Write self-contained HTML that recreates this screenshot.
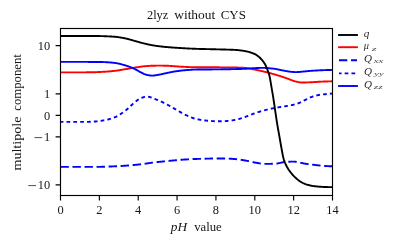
<!DOCTYPE html>
<html><head><meta charset="utf-8"><title>chart</title>
<style>html,body{margin:0;padding:0;background:#fff;}body{width:399px;height:244px;overflow:hidden;font-family:"Liberation Serif",serif;}</style></head>
<body>
<svg width="399" height="244" viewBox="0 0 399 244" style="display:block;will-change:transform">
<rect width="399" height="244" fill="#fff"/>
<defs><clipPath id="c"><rect x="60.50" y="28.50" width="272.00" height="167.00"/></clipPath></defs>
<g clip-path="url(#c)" fill="none" stroke-width="1.90" stroke-linejoin="round">
<path d="M60.40,72.40 L60.90,72.40 L61.40,72.40 L61.90,72.40 L62.40,72.40 L62.90,72.40 L63.40,72.40 L63.90,72.40 L64.40,72.40 L64.90,72.40 L65.40,72.40 L65.90,72.40 L66.40,72.40 L66.90,72.40 L67.40,72.39 L67.90,72.39 L68.40,72.39 L68.90,72.39 L69.40,72.39 L69.90,72.39 L70.40,72.39 L70.90,72.39 L71.40,72.39 L71.90,72.39 L72.40,72.38 L72.90,72.38 L73.40,72.38 L73.90,72.38 L74.40,72.38 L74.90,72.38 L75.40,72.37 L75.90,72.37 L76.40,72.37 L76.90,72.37 L77.40,72.37 L77.90,72.37 L78.40,72.36 L78.90,72.36 L79.40,72.36 L79.90,72.36 L80.40,72.35 L80.90,72.35 L81.40,72.35 L81.90,72.35 L82.40,72.35 L82.90,72.34 L83.40,72.34 L83.90,72.34 L84.40,72.33 L84.90,72.33 L85.40,72.33 L85.90,72.33 L86.40,72.32 L86.90,72.32 L87.40,72.32 L87.90,72.31 L88.40,72.31 L88.90,72.31 L89.40,72.30 L89.90,72.30 L90.40,72.30 L90.90,72.29 L91.40,72.28 L91.90,72.28 L92.40,72.27 L92.90,72.25 L93.40,72.24 L93.90,72.23 L94.40,72.21 L94.90,72.20 L95.40,72.18 L95.90,72.16 L96.40,72.14 L96.90,72.12 L97.40,72.10 L97.90,72.07 L98.40,72.05 L98.90,72.03 L99.40,72.00 L99.90,71.98 L100.40,71.95 L100.90,71.93 L101.40,71.90 L101.90,71.87 L102.40,71.85 L102.90,71.82 L103.40,71.79 L103.90,71.76 L104.40,71.73 L104.90,71.71 L105.40,71.68 L105.90,71.65 L106.40,71.61 L106.90,71.58 L107.40,71.54 L107.90,71.51 L108.40,71.47 L108.90,71.43 L109.40,71.38 L109.90,71.34 L110.40,71.30 L110.90,71.25 L111.40,71.20 L111.90,71.15 L112.40,71.10 L112.90,71.05 L113.40,71.00 L113.90,70.94 L114.40,70.89 L114.90,70.83 L115.40,70.78 L115.90,70.72 L116.40,70.65 L116.90,70.58 L117.40,70.51 L117.90,70.44 L118.40,70.36 L118.90,70.28 L119.40,70.20 L119.90,70.12 L120.40,70.04 L120.90,69.95 L121.40,69.86 L121.90,69.78 L122.40,69.69 L122.90,69.60 L123.40,69.52 L123.90,69.43 L124.40,69.35 L124.90,69.27 L125.40,69.18 L125.90,69.10 L126.40,69.02 L126.90,68.94 L127.40,68.85 L127.90,68.77 L128.40,68.68 L128.90,68.60 L129.40,68.51 L129.90,68.43 L130.40,68.35 L130.90,68.26 L131.40,68.18 L131.90,68.09 L132.40,68.01 L132.90,67.93 L133.40,67.85 L133.90,67.77 L134.40,67.69 L134.90,67.62 L135.40,67.54 L135.90,67.46 L136.40,67.38 L136.90,67.30 L137.40,67.22 L137.90,67.15 L138.40,67.07 L138.90,66.99 L139.40,66.91 L139.90,66.83 L140.40,66.76 L140.90,66.69 L141.40,66.62 L141.90,66.55 L142.40,66.48 L142.90,66.42 L143.40,66.36 L143.90,66.31 L144.40,66.26 L144.90,66.21 L145.40,66.17 L145.90,66.12 L146.40,66.08 L146.90,66.04 L147.40,66.00 L147.90,65.96 L148.40,65.93 L148.90,65.89 L149.40,65.86 L149.90,65.83 L150.40,65.81 L150.90,65.78 L151.40,65.77 L151.90,65.75 L152.40,65.74 L152.90,65.73 L153.40,65.72 L153.90,65.71 L154.40,65.70 L154.90,65.70 L155.40,65.69 L155.90,65.68 L156.40,65.67 L156.90,65.67 L157.40,65.66 L157.90,65.66 L158.40,65.65 L158.90,65.65 L159.40,65.65 L159.90,65.65 L160.40,65.65 L160.90,65.65 L161.40,65.66 L161.90,65.66 L162.40,65.67 L162.90,65.67 L163.40,65.68 L163.90,65.69 L164.40,65.70 L164.90,65.72 L165.40,65.73 L165.90,65.74 L166.40,65.75 L166.90,65.77 L167.40,65.78 L167.90,65.80 L168.40,65.81 L168.90,65.84 L169.40,65.86 L169.90,65.89 L170.40,65.93 L170.90,65.96 L171.40,66.00 L171.90,66.04 L172.40,66.08 L172.90,66.12 L173.40,66.17 L173.90,66.21 L174.40,66.24 L174.90,66.28 L175.40,66.31 L175.90,66.35 L176.40,66.38 L176.90,66.41 L177.40,66.45 L177.90,66.48 L178.40,66.51 L178.90,66.55 L179.40,66.58 L179.90,66.61 L180.40,66.65 L180.90,66.68 L181.40,66.71 L181.90,66.74 L182.40,66.77 L182.90,66.80 L183.40,66.82 L183.90,66.85 L184.40,66.87 L184.90,66.90 L185.40,66.92 L185.90,66.94 L186.40,66.96 L186.90,66.99 L187.40,67.01 L187.90,67.03 L188.40,67.05 L188.90,67.08 L189.40,67.10 L189.90,67.12 L190.40,67.14 L190.90,67.15 L191.40,67.17 L191.90,67.19 L192.40,67.20 L192.90,67.22 L193.40,67.23 L193.90,67.24 L194.40,67.24 L194.90,67.25 L195.40,67.25 L195.90,67.25 L196.40,67.26 L196.90,67.26 L197.40,67.26 L197.90,67.26 L198.40,67.26 L198.90,67.26 L199.40,67.27 L199.90,67.27 L200.40,67.27 L200.90,67.27 L201.40,67.27 L201.90,67.27 L202.40,67.27 L202.90,67.27 L203.40,67.28 L203.90,67.28 L204.40,67.28 L204.90,67.28 L205.40,67.28 L205.90,67.28 L206.40,67.28 L206.90,67.28 L207.40,67.28 L207.90,67.28 L208.40,67.28 L208.90,67.28 L209.40,67.28 L209.90,67.29 L210.40,67.29 L210.90,67.29 L211.40,67.29 L211.90,67.29 L212.40,67.29 L212.90,67.29 L213.40,67.29 L213.90,67.30 L214.40,67.30 L214.90,67.30 L215.40,67.30 L215.90,67.30 L216.40,67.31 L216.90,67.31 L217.40,67.31 L217.90,67.31 L218.40,67.32 L218.90,67.32 L219.40,67.32 L219.90,67.33 L220.40,67.33 L220.90,67.33 L221.40,67.34 L221.90,67.34 L222.40,67.34 L222.90,67.35 L223.40,67.35 L223.90,67.36 L224.40,67.36 L224.90,67.37 L225.40,67.37 L225.90,67.38 L226.40,67.38 L226.90,67.39 L227.40,67.39 L227.90,67.40 L228.40,67.40 L228.90,67.41 L229.40,67.42 L229.90,67.42 L230.40,67.43 L230.90,67.44 L231.40,67.44 L231.90,67.45 L232.40,67.46 L232.90,67.46 L233.40,67.47 L233.90,67.48 L234.40,67.49 L234.90,67.50 L235.40,67.51 L235.90,67.51 L236.40,67.53 L236.90,67.54 L237.40,67.55 L237.90,67.56 L238.40,67.58 L238.90,67.60 L239.40,67.61 L239.90,67.63 L240.40,67.65 L240.90,67.67 L241.40,67.70 L241.90,67.72 L242.40,67.74 L242.90,67.77 L243.40,67.80 L243.90,67.83 L244.40,67.86 L244.90,67.89 L245.40,67.92 L245.90,67.96 L246.40,68.02 L246.90,68.08 L247.40,68.15 L247.90,68.22 L248.40,68.31 L248.90,68.39 L249.40,68.49 L249.90,68.58 L250.40,68.68 L250.90,68.79 L251.40,68.89 L251.90,69.00 L252.40,69.11 L252.90,69.22 L253.40,69.33 L253.90,69.43 L254.40,69.54 L254.90,69.64 L255.40,69.74 L255.90,69.84 L256.40,69.94 L256.90,70.04 L257.40,70.14 L257.90,70.25 L258.40,70.35 L258.90,70.46 L259.40,70.57 L259.90,70.68 L260.40,70.79 L260.90,70.90 L261.40,71.01 L261.90,71.12 L262.40,71.24 L262.90,71.35 L263.40,71.47 L263.90,71.59 L264.40,71.71 L264.90,71.83 L265.40,71.95 L265.90,72.07 L266.40,72.20 L266.90,72.32 L267.40,72.45 L267.90,72.58 L268.40,72.71 L268.90,72.84 L269.40,72.97 L269.90,73.11 L270.40,73.24 L270.90,73.38 L271.40,73.52 L271.90,73.66 L272.40,73.80 L272.90,73.94 L273.40,74.08 L273.90,74.22 L274.40,74.37 L274.90,74.51 L275.40,74.66 L275.90,74.81 L276.40,74.95 L276.90,75.10 L277.40,75.25 L277.90,75.40 L278.40,75.56 L278.90,75.71 L279.40,75.86 L279.90,76.02 L280.40,76.18 L280.90,76.34 L281.40,76.50 L281.90,76.66 L282.40,76.82 L282.90,76.99 L283.40,77.15 L283.90,77.32 L284.40,77.49 L284.90,77.66 L285.40,77.83 L285.90,78.01 L286.40,78.20 L286.90,78.39 L287.40,78.58 L287.90,78.77 L288.40,78.97 L288.90,79.16 L289.40,79.35 L289.90,79.53 L290.40,79.71 L290.90,79.89 L291.40,80.08 L291.90,80.27 L292.40,80.45 L292.90,80.64 L293.40,80.82 L293.90,80.99 L294.40,81.15 L294.90,81.30 L295.40,81.44 L295.90,81.56 L296.40,81.66 L296.90,81.77 L297.40,81.87 L297.90,81.97 L298.40,82.07 L298.90,82.16 L299.40,82.25 L299.90,82.32 L300.40,82.39 L300.90,82.44 L301.40,82.48 L301.90,82.50 L302.40,82.50 L302.90,82.50 L303.40,82.49 L303.90,82.49 L304.40,82.48 L304.90,82.47 L305.40,82.46 L305.90,82.44 L306.40,82.43 L306.90,82.41 L307.40,82.40 L307.90,82.38 L308.40,82.36 L308.90,82.35 L309.40,82.33 L309.90,82.31 L310.40,82.29 L310.90,82.27 L311.40,82.25 L311.90,82.22 L312.40,82.20 L312.90,82.17 L313.40,82.13 L313.90,82.10 L314.40,82.07 L314.90,82.03 L315.40,82.00 L315.90,81.96 L316.40,81.93 L316.90,81.89 L317.40,81.86 L317.90,81.82 L318.40,81.79 L318.90,81.76 L319.40,81.74 L319.90,81.71 L320.40,81.69 L320.90,81.67 L321.40,81.65 L321.90,81.63 L322.40,81.61 L322.90,81.59 L323.40,81.57 L323.90,81.55 L324.40,81.53 L324.90,81.51 L325.40,81.49 L325.90,81.48 L326.40,81.46 L326.90,81.44 L327.40,81.43 L327.90,81.41 L328.40,81.40 L328.90,81.38 L329.40,81.37 L329.90,81.36 L330.40,81.34 L330.90,81.33 L331.40,81.32 L331.90,81.31 L332.50,81.30" stroke="#f00"/>
<path d="M60.40,166.90 L60.90,166.90 L61.40,166.90 L61.90,166.90 L62.40,166.90 L62.90,166.90 L63.40,166.90 L63.90,166.90 L64.40,166.90 L64.90,166.90 L65.40,166.90 L65.90,166.90 L66.40,166.90 L66.90,166.90 L67.40,166.90 L67.90,166.90 L68.40,166.90 L68.90,166.90 L69.40,166.90 L69.90,166.90 L70.40,166.90 L70.90,166.90 L71.40,166.90 L71.90,166.90 L72.40,166.90 L72.90,166.90 L73.40,166.90 L73.90,166.90 L74.40,166.90 L74.90,166.90 L75.40,166.90 L75.90,166.90 L76.40,166.90 L76.90,166.90 L77.40,166.90 L77.90,166.90 L78.40,166.90 L78.90,166.90 L79.40,166.90 L79.90,166.90 L80.40,166.90 L80.90,166.90 L81.40,166.90 L81.90,166.90 L82.40,166.90 L82.90,166.90 L83.40,166.90 L83.90,166.90 L84.40,166.90 L84.90,166.90 L85.40,166.90 L85.90,166.90 L86.40,166.90 L86.90,166.90 L87.40,166.90 L87.90,166.90 L88.40,166.90 L88.90,166.90 L89.40,166.90 L89.90,166.90 L90.40,166.90 L90.90,166.90 L91.40,166.90 L91.90,166.90 L92.40,166.90 L92.90,166.90 L93.40,166.90 L93.90,166.90 L94.40,166.90 L94.90,166.90 L95.40,166.90 L95.90,166.90 L96.40,166.90 L96.90,166.89 L97.40,166.89 L97.90,166.88 L98.40,166.88 L98.90,166.87 L99.40,166.86 L99.90,166.85 L100.40,166.84 L100.90,166.83 L101.40,166.82 L101.90,166.80 L102.40,166.79 L102.90,166.78 L103.40,166.76 L103.90,166.75 L104.40,166.73 L104.90,166.71 L105.40,166.70 L105.90,166.68 L106.40,166.66 L106.90,166.64 L107.40,166.62 L107.90,166.60 L108.40,166.58 L108.90,166.56 L109.40,166.54 L109.90,166.52 L110.40,166.50 L110.90,166.48 L111.40,166.46 L111.90,166.44 L112.40,166.42 L112.90,166.40 L113.40,166.38 L113.90,166.35 L114.40,166.33 L114.90,166.31 L115.40,166.29 L115.90,166.27 L116.40,166.25 L116.90,166.22 L117.40,166.20 L117.90,166.17 L118.40,166.14 L118.90,166.12 L119.40,166.09 L119.90,166.06 L120.40,166.03 L120.90,165.99 L121.40,165.96 L121.90,165.93 L122.40,165.90 L122.90,165.86 L123.40,165.83 L123.90,165.80 L124.40,165.76 L124.90,165.73 L125.40,165.69 L125.90,165.66 L126.40,165.62 L126.90,165.59 L127.40,165.55 L127.90,165.51 L128.40,165.47 L128.90,165.43 L129.40,165.40 L129.90,165.36 L130.40,165.31 L130.90,165.27 L131.40,165.23 L131.90,165.19 L132.40,165.14 L132.90,165.10 L133.40,165.05 L133.90,165.01 L134.40,164.96 L134.90,164.91 L135.40,164.86 L135.90,164.81 L136.40,164.76 L136.90,164.70 L137.40,164.65 L137.90,164.59 L138.40,164.53 L138.90,164.47 L139.40,164.41 L139.90,164.35 L140.40,164.29 L140.90,164.23 L141.40,164.16 L141.90,164.10 L142.40,164.04 L142.90,163.97 L143.40,163.91 L143.90,163.84 L144.40,163.78 L144.90,163.71 L145.40,163.65 L145.90,163.58 L146.40,163.51 L146.90,163.44 L147.40,163.37 L147.90,163.30 L148.40,163.23 L148.90,163.15 L149.40,163.08 L149.90,163.01 L150.40,162.93 L150.90,162.86 L151.40,162.79 L151.90,162.72 L152.40,162.65 L152.90,162.58 L153.40,162.51 L153.90,162.45 L154.40,162.38 L154.90,162.32 L155.40,162.27 L155.90,162.21 L156.40,162.15 L156.90,162.10 L157.40,162.05 L157.90,162.00 L158.40,161.95 L158.90,161.90 L159.40,161.85 L159.90,161.80 L160.40,161.75 L160.90,161.70 L161.40,161.66 L161.90,161.61 L162.40,161.56 L162.90,161.51 L163.40,161.47 L163.90,161.42 L164.40,161.37 L164.90,161.32 L165.40,161.27 L165.90,161.22 L166.40,161.17 L166.90,161.12 L167.40,161.07 L167.90,161.02 L168.40,160.96 L168.90,160.91 L169.40,160.86 L169.90,160.81 L170.40,160.76 L170.90,160.71 L171.40,160.66 L171.90,160.61 L172.40,160.56 L172.90,160.51 L173.40,160.47 L173.90,160.42 L174.40,160.37 L174.90,160.33 L175.40,160.28 L175.90,160.24 L176.40,160.19 L176.90,160.15 L177.40,160.11 L177.90,160.06 L178.40,160.02 L178.90,159.98 L179.40,159.93 L179.90,159.89 L180.40,159.85 L180.90,159.81 L181.40,159.77 L181.90,159.73 L182.40,159.69 L182.90,159.66 L183.40,159.62 L183.90,159.58 L184.40,159.55 L184.90,159.52 L185.40,159.49 L185.90,159.46 L186.40,159.43 L186.90,159.40 L187.40,159.37 L187.90,159.34 L188.40,159.31 L188.90,159.29 L189.40,159.26 L189.90,159.24 L190.40,159.21 L190.90,159.19 L191.40,159.16 L191.90,159.14 L192.40,159.12 L192.90,159.09 L193.40,159.07 L193.90,159.05 L194.40,159.03 L194.90,159.01 L195.40,158.99 L195.90,158.97 L196.40,158.96 L196.90,158.94 L197.40,158.92 L197.90,158.91 L198.40,158.89 L198.90,158.87 L199.40,158.86 L199.90,158.84 L200.40,158.83 L200.90,158.81 L201.40,158.80 L201.90,158.79 L202.40,158.77 L202.90,158.76 L203.40,158.75 L203.90,158.73 L204.40,158.72 L204.90,158.71 L205.40,158.70 L205.90,158.68 L206.40,158.67 L206.90,158.66 L207.40,158.64 L207.90,158.63 L208.40,158.61 L208.90,158.60 L209.40,158.59 L209.90,158.58 L210.40,158.56 L210.90,158.55 L211.40,158.54 L211.90,158.53 L212.40,158.52 L212.90,158.52 L213.40,158.51 L213.90,158.50 L214.40,158.50 L214.90,158.50 L215.40,158.50 L215.90,158.50 L216.40,158.50 L216.90,158.50 L217.40,158.50 L217.90,158.50 L218.40,158.50 L218.90,158.50 L219.40,158.50 L219.90,158.50 L220.40,158.50 L220.90,158.50 L221.40,158.50 L221.90,158.50 L222.40,158.50 L222.90,158.50 L223.40,158.50 L223.90,158.50 L224.40,158.50 L224.90,158.50 L225.40,158.50 L225.90,158.51 L226.40,158.52 L226.90,158.53 L227.40,158.55 L227.90,158.57 L228.40,158.59 L228.90,158.62 L229.40,158.65 L229.90,158.68 L230.40,158.71 L230.90,158.75 L231.40,158.79 L231.90,158.82 L232.40,158.87 L232.90,158.91 L233.40,158.95 L233.90,158.99 L234.40,159.03 L234.90,159.07 L235.40,159.12 L235.90,159.16 L236.40,159.21 L236.90,159.27 L237.40,159.32 L237.90,159.38 L238.40,159.44 L238.90,159.51 L239.40,159.58 L239.90,159.65 L240.40,159.72 L240.90,159.80 L241.40,159.88 L241.90,159.96 L242.40,160.04 L242.90,160.12 L243.40,160.20 L243.90,160.28 L244.40,160.37 L244.90,160.45 L245.40,160.53 L245.90,160.62 L246.40,160.72 L246.90,160.82 L247.40,160.92 L247.90,161.03 L248.40,161.14 L248.90,161.26 L249.40,161.37 L249.90,161.49 L250.40,161.61 L250.90,161.72 L251.40,161.84 L251.90,161.95 L252.40,162.06 L252.90,162.17 L253.40,162.27 L253.90,162.37 L254.40,162.46 L254.90,162.55 L255.40,162.63 L255.90,162.72 L256.40,162.80 L256.90,162.89 L257.40,162.98 L257.90,163.06 L258.40,163.15 L258.90,163.24 L259.40,163.32 L259.90,163.40 L260.40,163.48 L260.90,163.55 L261.40,163.62 L261.90,163.69 L262.40,163.74 L262.90,163.79 L263.40,163.83 L263.90,163.86 L264.40,163.89 L264.90,163.90 L265.40,163.90 L265.90,163.90 L266.40,163.90 L266.90,163.89 L267.40,163.89 L267.90,163.88 L268.40,163.88 L268.90,163.87 L269.40,163.86 L269.90,163.85 L270.40,163.84 L270.90,163.83 L271.40,163.82 L271.90,163.80 L272.40,163.79 L272.90,163.77 L273.40,163.76 L273.90,163.74 L274.40,163.72 L274.90,163.71 L275.40,163.69 L275.90,163.65 L276.40,163.60 L276.90,163.53 L277.40,163.45 L277.90,163.36 L278.40,163.27 L278.90,163.16 L279.40,163.06 L279.90,162.94 L280.40,162.83 L280.90,162.72 L281.40,162.61 L281.90,162.50 L282.40,162.39 L282.90,162.30 L283.40,162.21 L283.90,162.13 L284.40,162.07 L284.90,162.02 L285.40,161.98 L285.90,161.94 L286.40,161.90 L286.90,161.87 L287.40,161.83 L287.90,161.80 L288.40,161.77 L288.90,161.74 L289.40,161.71 L289.90,161.69 L290.40,161.66 L290.90,161.64 L291.40,161.63 L291.90,161.61 L292.40,161.61 L292.90,161.60 L293.40,161.60 L293.90,161.61 L294.40,161.64 L294.90,161.68 L295.40,161.74 L295.90,161.80 L296.40,161.88 L296.90,161.96 L297.40,162.05 L297.90,162.15 L298.40,162.25 L298.90,162.36 L299.40,162.47 L299.90,162.59 L300.40,162.70 L300.90,162.82 L301.40,162.94 L301.90,163.05 L302.40,163.17 L302.90,163.27 L303.40,163.38 L303.90,163.48 L304.40,163.57 L304.90,163.65 L305.40,163.73 L305.90,163.80 L306.40,163.88 L306.90,163.95 L307.40,164.02 L307.90,164.09 L308.40,164.16 L308.90,164.22 L309.40,164.29 L309.90,164.36 L310.40,164.42 L310.90,164.49 L311.40,164.55 L311.90,164.61 L312.40,164.67 L312.90,164.73 L313.40,164.79 L313.90,164.85 L314.40,164.91 L314.90,164.97 L315.40,165.02 L315.90,165.08 L316.40,165.14 L316.90,165.19 L317.40,165.25 L317.90,165.31 L318.40,165.37 L318.90,165.42 L319.40,165.48 L319.90,165.53 L320.40,165.59 L320.90,165.64 L321.40,165.69 L321.90,165.74 L322.40,165.78 L322.90,165.83 L323.40,165.87 L323.90,165.91 L324.40,165.94 L324.90,165.98 L325.40,166.01 L325.90,166.03 L326.40,166.06 L326.90,166.09 L327.40,166.11 L327.90,166.14 L328.40,166.16 L328.90,166.19 L329.40,166.21 L329.90,166.23 L330.40,166.24 L330.90,166.26 L331.40,166.28 L331.90,166.29 L332.50,166.30" stroke="#00f" stroke-dasharray="8.42 3.63"/>
<path d="M60.40,121.90 L60.90,121.90 L61.40,121.90 L61.90,121.90 L62.40,121.90 L62.90,121.90 L63.40,121.90 L63.90,121.90 L64.40,121.90 L64.90,121.90 L65.40,121.90 L65.90,121.90 L66.40,121.90 L66.90,121.90 L67.40,121.90 L67.90,121.90 L68.40,121.90 L68.90,121.90 L69.40,121.90 L69.90,121.90 L70.40,121.90 L70.90,121.90 L71.40,121.90 L71.90,121.90 L72.40,121.90 L72.90,121.90 L73.40,121.90 L73.90,121.90 L74.40,121.90 L74.90,121.90 L75.40,121.90 L75.90,121.90 L76.40,121.90 L76.90,121.90 L77.40,121.90 L77.90,121.90 L78.40,121.90 L78.90,121.90 L79.40,121.90 L79.90,121.90 L80.40,121.90 L80.90,121.90 L81.40,121.90 L81.90,121.90 L82.40,121.90 L82.90,121.90 L83.40,121.90 L83.90,121.90 L84.40,121.90 L84.90,121.90 L85.40,121.90 L85.90,121.90 L86.40,121.89 L86.90,121.88 L87.40,121.87 L87.90,121.86 L88.40,121.84 L88.90,121.83 L89.40,121.81 L89.90,121.79 L90.40,121.77 L90.90,121.74 L91.40,121.72 L91.90,121.69 L92.40,121.67 L92.90,121.64 L93.40,121.61 L93.90,121.58 L94.40,121.55 L94.90,121.52 L95.40,121.49 L95.90,121.45 L96.40,121.41 L96.90,121.37 L97.40,121.32 L97.90,121.26 L98.40,121.20 L98.90,121.14 L99.40,121.07 L99.90,121.00 L100.40,120.93 L100.90,120.86 L101.40,120.78 L101.90,120.69 L102.40,120.61 L102.90,120.52 L103.40,120.43 L103.90,120.34 L104.40,120.25 L104.90,120.16 L105.40,120.06 L105.90,119.96 L106.40,119.85 L106.90,119.74 L107.40,119.63 L107.90,119.50 L108.40,119.38 L108.90,119.24 L109.40,119.10 L109.90,118.96 L110.40,118.81 L110.90,118.65 L111.40,118.49 L111.90,118.33 L112.40,118.16 L112.90,117.98 L113.40,117.80 L113.90,117.61 L114.40,117.42 L114.90,117.22 L115.40,117.02 L115.90,116.80 L116.40,116.56 L116.90,116.31 L117.40,116.05 L117.90,115.77 L118.40,115.48 L118.90,115.18 L119.40,114.87 L119.90,114.55 L120.40,114.22 L120.90,113.88 L121.40,113.54 L121.90,113.19 L122.40,112.83 L122.90,112.47 L123.40,112.10 L123.90,111.74 L124.40,111.37 L124.90,111.00 L125.40,110.63 L125.90,110.24 L126.40,109.84 L126.90,109.42 L127.40,108.99 L127.90,108.55 L128.40,108.09 L128.90,107.63 L129.40,107.16 L129.90,106.69 L130.40,106.22 L130.90,105.74 L131.40,105.27 L131.90,104.80 L132.40,104.34 L132.90,103.88 L133.40,103.44 L133.90,103.00 L134.40,102.58 L134.90,102.18 L135.40,101.78 L135.90,101.37 L136.40,100.96 L136.90,100.54 L137.40,100.14 L137.90,99.76 L138.40,99.40 L138.90,99.07 L139.40,98.78 L139.90,98.54 L140.40,98.34 L140.90,98.14 L141.40,97.94 L141.90,97.75 L142.40,97.56 L142.90,97.39 L143.40,97.23 L143.90,97.08 L144.40,96.95 L144.90,96.83 L145.40,96.74 L145.90,96.67 L146.40,96.62 L146.90,96.60 L147.40,96.61 L147.90,96.65 L148.40,96.73 L148.90,96.83 L149.40,96.95 L149.90,97.09 L150.40,97.25 L150.90,97.43 L151.40,97.62 L151.90,97.82 L152.40,98.02 L152.90,98.23 L153.40,98.43 L153.90,98.64 L154.40,98.84 L154.90,99.03 L155.40,99.21 L155.90,99.40 L156.40,99.59 L156.90,99.78 L157.40,99.98 L157.90,100.19 L158.40,100.40 L158.90,100.61 L159.40,100.83 L159.90,101.05 L160.40,101.27 L160.90,101.50 L161.40,101.73 L161.90,101.96 L162.40,102.20 L162.90,102.43 L163.40,102.67 L163.90,102.91 L164.40,103.16 L164.90,103.40 L165.40,103.65 L165.90,103.90 L166.40,104.16 L166.90,104.42 L167.40,104.69 L167.90,104.96 L168.40,105.23 L168.90,105.51 L169.40,105.79 L169.90,106.07 L170.40,106.36 L170.90,106.64 L171.40,106.93 L171.90,107.22 L172.40,107.51 L172.90,107.80 L173.40,108.08 L173.90,108.37 L174.40,108.65 L174.90,108.93 L175.40,109.21 L175.90,109.49 L176.40,109.78 L176.90,110.07 L177.40,110.36 L177.90,110.66 L178.40,110.95 L178.90,111.25 L179.40,111.54 L179.90,111.84 L180.40,112.13 L180.90,112.42 L181.40,112.71 L181.90,112.99 L182.40,113.27 L182.90,113.54 L183.40,113.80 L183.90,114.06 L184.40,114.32 L184.90,114.56 L185.40,114.79 L185.90,115.03 L186.40,115.26 L186.90,115.49 L187.40,115.73 L187.90,115.96 L188.40,116.18 L188.90,116.41 L189.40,116.63 L189.90,116.85 L190.40,117.06 L190.90,117.26 L191.40,117.46 L191.90,117.65 L192.40,117.84 L192.90,118.01 L193.40,118.18 L193.90,118.34 L194.40,118.49 L194.90,118.62 L195.40,118.75 L195.90,118.87 L196.40,118.99 L196.90,119.10 L197.40,119.22 L197.90,119.33 L198.40,119.43 L198.90,119.53 L199.40,119.63 L199.90,119.73 L200.40,119.82 L200.90,119.91 L201.40,119.99 L201.90,120.07 L202.40,120.15 L202.90,120.22 L203.40,120.29 L203.90,120.35 L204.40,120.41 L204.90,120.47 L205.40,120.52 L205.90,120.57 L206.40,120.62 L206.90,120.67 L207.40,120.71 L207.90,120.76 L208.40,120.80 L208.90,120.85 L209.40,120.89 L209.90,120.92 L210.40,120.96 L210.90,121.00 L211.40,121.03 L211.90,121.06 L212.40,121.09 L212.90,121.12 L213.40,121.14 L213.90,121.16 L214.40,121.18 L214.90,121.19 L215.40,121.21 L215.90,121.22 L216.40,121.23 L216.90,121.24 L217.40,121.26 L217.90,121.27 L218.40,121.27 L218.90,121.28 L219.40,121.29 L219.90,121.29 L220.40,121.30 L220.90,121.30 L221.40,121.30 L221.90,121.29 L222.40,121.28 L222.90,121.27 L223.40,121.25 L223.90,121.22 L224.40,121.20 L224.90,121.16 L225.40,121.13 L225.90,121.09 L226.40,121.05 L226.90,121.00 L227.40,120.95 L227.90,120.90 L228.40,120.84 L228.90,120.78 L229.40,120.72 L229.90,120.66 L230.40,120.60 L230.90,120.53 L231.40,120.46 L231.90,120.39 L232.40,120.32 L232.90,120.25 L233.40,120.17 L233.90,120.10 L234.40,120.02 L234.90,119.95 L235.40,119.87 L235.90,119.78 L236.40,119.68 L236.90,119.57 L237.40,119.45 L237.90,119.32 L238.40,119.18 L238.90,119.04 L239.40,118.88 L239.90,118.72 L240.40,118.56 L240.90,118.39 L241.40,118.22 L241.90,118.05 L242.40,117.87 L242.90,117.70 L243.40,117.52 L243.90,117.35 L244.40,117.17 L244.90,117.00 L245.40,116.83 L245.90,116.66 L246.40,116.48 L246.90,116.30 L247.40,116.11 L247.90,115.91 L248.40,115.72 L248.90,115.52 L249.40,115.32 L249.90,115.12 L250.40,114.92 L250.90,114.72 L251.40,114.52 L251.90,114.32 L252.40,114.12 L252.90,113.93 L253.40,113.74 L253.90,113.55 L254.40,113.38 L254.90,113.20 L255.40,113.03 L255.90,112.87 L256.40,112.70 L256.90,112.54 L257.40,112.38 L257.90,112.22 L258.40,112.07 L258.90,111.91 L259.40,111.76 L259.90,111.61 L260.40,111.46 L260.90,111.31 L261.40,111.17 L261.90,111.02 L262.40,110.88 L262.90,110.74 L263.40,110.60 L263.90,110.47 L264.40,110.33 L264.90,110.20 L265.40,110.07 L265.90,109.95 L266.40,109.82 L266.90,109.69 L267.40,109.57 L267.90,109.45 L268.40,109.33 L268.90,109.21 L269.40,109.09 L269.90,108.97 L270.40,108.86 L270.90,108.74 L271.40,108.63 L271.90,108.53 L272.40,108.42 L272.90,108.31 L273.40,108.21 L273.90,108.11 L274.40,108.01 L274.90,107.92 L275.40,107.83 L275.90,107.74 L276.40,107.65 L276.90,107.57 L277.40,107.49 L277.90,107.41 L278.40,107.33 L278.90,107.26 L279.40,107.18 L279.90,107.11 L280.40,107.04 L280.90,106.96 L281.40,106.89 L281.90,106.81 L282.40,106.74 L282.90,106.66 L283.40,106.58 L283.90,106.50 L284.40,106.42 L284.90,106.33 L285.40,106.25 L285.90,106.16 L286.40,106.07 L286.90,105.99 L287.40,105.90 L287.90,105.81 L288.40,105.73 L288.90,105.64 L289.40,105.55 L289.90,105.46 L290.40,105.36 L290.90,105.27 L291.40,105.17 L291.90,105.07 L292.40,104.96 L292.90,104.85 L293.40,104.74 L293.90,104.62 L294.40,104.50 L294.90,104.38 L295.40,104.25 L295.90,104.10 L296.40,103.95 L296.90,103.79 L297.40,103.61 L297.90,103.43 L298.40,103.24 L298.90,103.05 L299.40,102.85 L299.90,102.64 L300.40,102.43 L300.90,102.20 L301.40,101.96 L301.90,101.72 L302.40,101.46 L302.90,101.20 L303.40,100.94 L303.90,100.67 L304.40,100.41 L304.90,100.15 L305.40,99.90 L305.90,99.64 L306.40,99.38 L306.90,99.12 L307.40,98.85 L307.90,98.59 L308.40,98.34 L308.90,98.09 L309.40,97.86 L309.90,97.64 L310.40,97.44 L310.90,97.24 L311.40,97.04 L311.90,96.86 L312.40,96.67 L312.90,96.50 L313.40,96.33 L313.90,96.17 L314.40,96.02 L314.90,95.88 L315.40,95.75 L315.90,95.62 L316.40,95.50 L316.90,95.39 L317.40,95.28 L317.90,95.17 L318.40,95.07 L318.90,94.98 L319.40,94.89 L319.90,94.81 L320.40,94.74 L320.90,94.68 L321.40,94.61 L321.90,94.55 L322.40,94.50 L322.90,94.45 L323.40,94.39 L323.90,94.34 L324.40,94.29 L324.90,94.24 L325.40,94.19 L325.90,94.14 L326.40,94.09 L326.90,94.03 L327.40,93.98 L327.90,93.93 L328.40,93.88 L328.90,93.83 L329.40,93.79 L329.90,93.74 L330.40,93.69 L330.90,93.64 L331.40,93.60 L331.90,93.55 L332.50,93.50" stroke="#00f" stroke-dasharray="3.7 3.13" stroke-dashoffset="0.7"/>
<path d="M60.40,61.90 L60.90,61.90 L61.40,61.90 L61.90,61.90 L62.40,61.90 L62.90,61.90 L63.40,61.90 L63.90,61.90 L64.40,61.90 L64.90,61.90 L65.40,61.90 L65.90,61.90 L66.40,61.90 L66.90,61.90 L67.40,61.90 L67.90,61.90 L68.40,61.90 L68.90,61.90 L69.40,61.90 L69.90,61.90 L70.40,61.90 L70.90,61.90 L71.40,61.90 L71.90,61.90 L72.40,61.90 L72.90,61.90 L73.40,61.90 L73.90,61.91 L74.40,61.91 L74.90,61.91 L75.40,61.91 L75.90,61.91 L76.40,61.91 L76.90,61.91 L77.40,61.91 L77.90,61.91 L78.40,61.91 L78.90,61.91 L79.40,61.91 L79.90,61.91 L80.40,61.91 L80.90,61.91 L81.40,61.91 L81.90,61.91 L82.40,61.91 L82.90,61.92 L83.40,61.92 L83.90,61.92 L84.40,61.92 L84.90,61.92 L85.40,61.92 L85.90,61.92 L86.40,61.92 L86.90,61.92 L87.40,61.92 L87.90,61.92 L88.40,61.93 L88.90,61.93 L89.40,61.93 L89.90,61.93 L90.40,61.93 L90.90,61.93 L91.40,61.93 L91.90,61.93 L92.40,61.93 L92.90,61.94 L93.40,61.94 L93.90,61.94 L94.40,61.94 L94.90,61.94 L95.40,61.94 L95.90,61.94 L96.40,61.95 L96.90,61.95 L97.40,61.95 L97.90,61.95 L98.40,61.95 L98.90,61.96 L99.40,61.96 L99.90,61.97 L100.40,61.98 L100.90,61.99 L101.40,62.01 L101.90,62.02 L102.40,62.04 L102.90,62.06 L103.40,62.08 L103.90,62.10 L104.40,62.12 L104.90,62.14 L105.40,62.17 L105.90,62.19 L106.40,62.22 L106.90,62.24 L107.40,62.27 L107.90,62.29 L108.40,62.32 L108.90,62.35 L109.40,62.39 L109.90,62.43 L110.40,62.47 L110.90,62.51 L111.40,62.56 L111.90,62.61 L112.40,62.66 L112.90,62.71 L113.40,62.77 L113.90,62.83 L114.40,62.89 L114.90,62.96 L115.40,63.03 L115.90,63.10 L116.40,63.18 L116.90,63.27 L117.40,63.36 L117.90,63.46 L118.40,63.57 L118.90,63.68 L119.40,63.79 L119.90,63.91 L120.40,64.04 L120.90,64.17 L121.40,64.30 L121.90,64.43 L122.40,64.57 L122.90,64.71 L123.40,64.85 L123.90,64.99 L124.40,65.14 L124.90,65.28 L125.40,65.43 L125.90,65.58 L126.40,65.74 L126.90,65.90 L127.40,66.06 L127.90,66.23 L128.40,66.41 L128.90,66.58 L129.40,66.77 L129.90,66.96 L130.40,67.15 L130.90,67.34 L131.40,67.55 L131.90,67.75 L132.40,67.96 L132.90,68.17 L133.40,68.39 L133.90,68.61 L134.40,68.83 L134.90,69.05 L135.40,69.29 L135.90,69.54 L136.40,69.81 L136.90,70.09 L137.40,70.38 L137.90,70.68 L138.40,70.97 L138.90,71.27 L139.40,71.56 L139.90,71.84 L140.40,72.10 L140.90,72.35 L141.40,72.59 L141.90,72.84 L142.40,73.08 L142.90,73.33 L143.40,73.57 L143.90,73.81 L144.40,74.03 L144.90,74.24 L145.40,74.43 L145.90,74.61 L146.40,74.76 L146.90,74.88 L147.40,74.98 L147.90,75.08 L148.40,75.18 L148.90,75.28 L149.40,75.36 L149.90,75.44 L150.40,75.50 L150.90,75.55 L151.40,75.59 L151.90,75.60 L152.40,75.60 L152.90,75.58 L153.40,75.54 L153.90,75.50 L154.40,75.44 L154.90,75.38 L155.40,75.31 L155.90,75.23 L156.40,75.15 L156.90,75.06 L157.40,74.97 L157.90,74.89 L158.40,74.80 L158.90,74.72 L159.40,74.63 L159.90,74.54 L160.40,74.44 L160.90,74.33 L161.40,74.22 L161.90,74.11 L162.40,73.99 L162.90,73.87 L163.40,73.76 L163.90,73.64 L164.40,73.53 L164.90,73.42 L165.40,73.32 L165.90,73.21 L166.40,73.11 L166.90,73.00 L167.40,72.89 L167.90,72.79 L168.40,72.68 L168.90,72.58 L169.40,72.47 L169.90,72.37 L170.40,72.26 L170.90,72.16 L171.40,72.06 L171.90,71.97 L172.40,71.87 L172.90,71.78 L173.40,71.69 L173.90,71.61 L174.40,71.52 L174.90,71.45 L175.40,71.37 L175.90,71.30 L176.40,71.22 L176.90,71.15 L177.40,71.08 L177.90,71.01 L178.40,70.95 L178.90,70.88 L179.40,70.81 L179.90,70.75 L180.40,70.69 L180.90,70.63 L181.40,70.57 L181.90,70.52 L182.40,70.46 L182.90,70.41 L183.40,70.36 L183.90,70.31 L184.40,70.27 L184.90,70.22 L185.40,70.18 L185.90,70.14 L186.40,70.10 L186.90,70.06 L187.40,70.03 L187.90,69.99 L188.40,69.95 L188.90,69.91 L189.40,69.88 L189.90,69.84 L190.40,69.81 L190.90,69.78 L191.40,69.75 L191.90,69.72 L192.40,69.70 L192.90,69.67 L193.40,69.65 L193.90,69.63 L194.40,69.62 L194.90,69.61 L195.40,69.60 L195.90,69.59 L196.40,69.58 L196.90,69.57 L197.40,69.56 L197.90,69.56 L198.40,69.55 L198.90,69.54 L199.40,69.54 L199.90,69.53 L200.40,69.52 L200.90,69.52 L201.40,69.51 L201.90,69.51 L202.40,69.51 L202.90,69.50 L203.40,69.50 L203.90,69.49 L204.40,69.49 L204.90,69.48 L205.40,69.48 L205.90,69.48 L206.40,69.47 L206.90,69.47 L207.40,69.47 L207.90,69.46 L208.40,69.46 L208.90,69.46 L209.40,69.45 L209.90,69.45 L210.40,69.44 L210.90,69.44 L211.40,69.44 L211.90,69.43 L212.40,69.43 L212.90,69.42 L213.40,69.42 L213.90,69.41 L214.40,69.41 L214.90,69.40 L215.40,69.40 L215.90,69.39 L216.40,69.38 L216.90,69.38 L217.40,69.37 L217.90,69.36 L218.40,69.36 L218.90,69.35 L219.40,69.35 L219.90,69.34 L220.40,69.33 L220.90,69.33 L221.40,69.32 L221.90,69.31 L222.40,69.31 L222.90,69.30 L223.40,69.29 L223.90,69.29 L224.40,69.28 L224.90,69.27 L225.40,69.27 L225.90,69.26 L226.40,69.25 L226.90,69.24 L227.40,69.24 L227.90,69.23 L228.40,69.22 L228.90,69.21 L229.40,69.20 L229.90,69.20 L230.40,69.19 L230.90,69.18 L231.40,69.17 L231.90,69.16 L232.40,69.15 L232.90,69.14 L233.40,69.13 L233.90,69.12 L234.40,69.11 L234.90,69.10 L235.40,69.09 L235.90,69.08 L236.40,69.07 L236.90,69.06 L237.40,69.05 L237.90,69.03 L238.40,69.02 L238.90,69.01 L239.40,68.99 L239.90,68.98 L240.40,68.96 L240.90,68.95 L241.40,68.93 L241.90,68.92 L242.40,68.90 L242.90,68.88 L243.40,68.86 L243.90,68.84 L244.40,68.82 L244.90,68.80 L245.40,68.78 L245.90,68.76 L246.40,68.73 L246.90,68.69 L247.40,68.66 L247.90,68.62 L248.40,68.58 L248.90,68.54 L249.40,68.50 L249.90,68.46 L250.40,68.42 L250.90,68.38 L251.40,68.33 L251.90,68.30 L252.40,68.26 L252.90,68.22 L253.40,68.19 L253.90,68.16 L254.40,68.13 L254.90,68.10 L255.40,68.08 L255.90,68.06 L256.40,68.04 L256.90,68.02 L257.40,68.00 L257.90,67.98 L258.40,67.96 L258.90,67.94 L259.40,67.92 L259.90,67.90 L260.40,67.89 L260.90,67.88 L261.40,67.87 L261.90,67.86 L262.40,67.85 L262.90,67.85 L263.40,67.85 L263.90,67.86 L264.40,67.88 L264.90,67.90 L265.40,67.93 L265.90,67.96 L266.40,67.99 L266.90,68.03 L267.40,68.07 L267.90,68.12 L268.40,68.16 L268.90,68.20 L269.40,68.25 L269.90,68.29 L270.40,68.33 L270.90,68.38 L271.40,68.43 L271.90,68.48 L272.40,68.54 L272.90,68.59 L273.40,68.65 L273.90,68.72 L274.40,68.79 L274.90,68.86 L275.40,68.93 L275.90,69.01 L276.40,69.11 L276.90,69.21 L277.40,69.31 L277.90,69.42 L278.40,69.54 L278.90,69.65 L279.40,69.76 L279.90,69.86 L280.40,69.96 L280.90,70.06 L281.40,70.16 L281.90,70.26 L282.40,70.35 L282.90,70.45 L283.40,70.55 L283.90,70.64 L284.40,70.74 L284.90,70.83 L285.40,70.92 L285.90,71.01 L286.40,71.10 L286.90,71.20 L287.40,71.29 L287.90,71.38 L288.40,71.47 L288.90,71.55 L289.40,71.62 L289.90,71.68 L290.40,71.73 L290.90,71.78 L291.40,71.83 L291.90,71.87 L292.40,71.92 L292.90,71.96 L293.40,71.99 L293.90,72.03 L294.40,72.06 L294.90,72.08 L295.40,72.09 L295.90,72.10 L296.40,72.10 L296.90,72.09 L297.40,72.07 L297.90,72.04 L298.40,72.01 L298.90,71.98 L299.40,71.93 L299.90,71.89 L300.40,71.84 L300.90,71.80 L301.40,71.75 L301.90,71.70 L302.40,71.65 L302.90,71.61 L303.40,71.57 L303.90,71.52 L304.40,71.47 L304.90,71.42 L305.40,71.37 L305.90,71.32 L306.40,71.26 L306.90,71.21 L307.40,71.16 L307.90,71.11 L308.40,71.06 L308.90,71.01 L309.40,70.96 L309.90,70.92 L310.40,70.89 L310.90,70.85 L311.40,70.81 L311.90,70.78 L312.40,70.74 L312.90,70.71 L313.40,70.67 L313.90,70.64 L314.40,70.61 L314.90,70.58 L315.40,70.55 L315.90,70.52 L316.40,70.49 L316.90,70.46 L317.40,70.43 L317.90,70.41 L318.40,70.38 L318.90,70.36 L319.40,70.34 L319.90,70.31 L320.40,70.29 L320.90,70.27 L321.40,70.25 L321.90,70.23 L322.40,70.21 L322.90,70.19 L323.40,70.17 L323.90,70.15 L324.40,70.13 L324.90,70.11 L325.40,70.09 L325.90,70.08 L326.40,70.06 L326.90,70.04 L327.40,70.03 L327.90,70.01 L328.40,70.00 L328.90,69.98 L329.40,69.97 L329.90,69.96 L330.40,69.94 L330.90,69.93 L331.40,69.92 L331.90,69.91 L332.50,69.90" stroke="#00f"/>
<path d="M60.40,36.00 L60.90,36.00 L61.40,36.00 L61.90,36.00 L62.40,36.00 L62.90,36.00 L63.40,36.00 L63.90,36.00 L64.40,36.00 L64.90,36.00 L65.40,36.00 L65.90,36.00 L66.40,36.00 L66.90,36.00 L67.40,36.00 L67.90,36.00 L68.40,36.00 L68.90,36.00 L69.40,36.00 L69.90,36.00 L70.40,36.00 L70.90,36.00 L71.40,36.00 L71.90,36.00 L72.40,36.00 L72.90,36.00 L73.40,36.00 L73.90,36.01 L74.40,36.01 L74.90,36.01 L75.40,36.01 L75.90,36.01 L76.40,36.01 L76.90,36.01 L77.40,36.01 L77.90,36.01 L78.40,36.01 L78.90,36.01 L79.40,36.01 L79.90,36.01 L80.40,36.01 L80.90,36.01 L81.40,36.01 L81.90,36.01 L82.40,36.01 L82.90,36.02 L83.40,36.02 L83.90,36.02 L84.40,36.02 L84.90,36.02 L85.40,36.02 L85.90,36.02 L86.40,36.02 L86.90,36.02 L87.40,36.02 L87.90,36.02 L88.40,36.03 L88.90,36.03 L89.40,36.03 L89.90,36.03 L90.40,36.03 L90.90,36.03 L91.40,36.03 L91.90,36.03 L92.40,36.03 L92.90,36.04 L93.40,36.04 L93.90,36.04 L94.40,36.04 L94.90,36.04 L95.40,36.04 L95.90,36.04 L96.40,36.05 L96.90,36.05 L97.40,36.05 L97.90,36.05 L98.40,36.05 L98.90,36.06 L99.40,36.06 L99.90,36.07 L100.40,36.08 L100.90,36.09 L101.40,36.10 L101.90,36.12 L102.40,36.13 L102.90,36.15 L103.40,36.17 L103.90,36.18 L104.40,36.20 L104.90,36.22 L105.40,36.24 L105.90,36.26 L106.40,36.28 L106.90,36.30 L107.40,36.33 L107.90,36.35 L108.40,36.37 L108.90,36.39 L109.40,36.41 L109.90,36.44 L110.40,36.46 L110.90,36.49 L111.40,36.52 L111.90,36.55 L112.40,36.58 L112.90,36.62 L113.40,36.66 L113.90,36.69 L114.40,36.73 L114.90,36.77 L115.40,36.82 L115.90,36.87 L116.40,36.92 L116.90,36.98 L117.40,37.04 L117.90,37.10 L118.40,37.17 L118.90,37.25 L119.40,37.32 L119.90,37.40 L120.40,37.48 L120.90,37.57 L121.40,37.66 L121.90,37.75 L122.40,37.84 L122.90,37.93 L123.40,38.03 L123.90,38.12 L124.40,38.22 L124.90,38.32 L125.40,38.42 L125.90,38.52 L126.40,38.64 L126.90,38.75 L127.40,38.87 L127.90,39.00 L128.40,39.13 L128.90,39.27 L129.40,39.40 L129.90,39.54 L130.40,39.69 L130.90,39.83 L131.40,39.98 L131.90,40.12 L132.40,40.27 L132.90,40.41 L133.40,40.55 L133.90,40.70 L134.40,40.84 L134.90,40.97 L135.40,41.11 L135.90,41.25 L136.40,41.38 L136.90,41.52 L137.40,41.66 L137.90,41.81 L138.40,41.95 L138.90,42.09 L139.40,42.23 L139.90,42.37 L140.40,42.51 L140.90,42.65 L141.40,42.79 L141.90,42.92 L142.40,43.06 L142.90,43.19 L143.40,43.31 L143.90,43.44 L144.40,43.56 L144.90,43.68 L145.40,43.79 L145.90,43.90 L146.40,44.02 L146.90,44.13 L147.40,44.24 L147.90,44.35 L148.40,44.46 L148.90,44.56 L149.40,44.67 L149.90,44.77 L150.40,44.87 L150.90,44.97 L151.40,45.07 L151.90,45.16 L152.40,45.25 L152.90,45.34 L153.40,45.43 L153.90,45.51 L154.40,45.59 L154.90,45.67 L155.40,45.74 L155.90,45.82 L156.40,45.89 L156.90,45.96 L157.40,46.03 L157.90,46.09 L158.40,46.16 L158.90,46.22 L159.40,46.28 L159.90,46.34 L160.40,46.40 L160.90,46.46 L161.40,46.52 L161.90,46.57 L162.40,46.63 L162.90,46.68 L163.40,46.73 L163.90,46.78 L164.40,46.83 L164.90,46.88 L165.40,46.93 L165.90,46.98 L166.40,47.02 L166.90,47.07 L167.40,47.11 L167.90,47.15 L168.40,47.20 L168.90,47.24 L169.40,47.28 L169.90,47.32 L170.40,47.36 L170.90,47.39 L171.40,47.43 L171.90,47.47 L172.40,47.51 L172.90,47.54 L173.40,47.58 L173.90,47.61 L174.40,47.65 L174.90,47.68 L175.40,47.71 L175.90,47.75 L176.40,47.78 L176.90,47.81 L177.40,47.84 L177.90,47.88 L178.40,47.91 L178.90,47.94 L179.40,47.97 L179.90,48.01 L180.40,48.04 L180.90,48.07 L181.40,48.10 L181.90,48.13 L182.40,48.16 L182.90,48.19 L183.40,48.22 L183.90,48.25 L184.40,48.28 L184.90,48.31 L185.40,48.34 L185.90,48.37 L186.40,48.40 L186.90,48.42 L187.40,48.45 L187.90,48.48 L188.40,48.50 L188.90,48.53 L189.40,48.55 L189.90,48.58 L190.40,48.60 L190.90,48.63 L191.40,48.65 L191.90,48.67 L192.40,48.69 L192.90,48.71 L193.40,48.73 L193.90,48.75 L194.40,48.77 L194.90,48.79 L195.40,48.81 L195.90,48.82 L196.40,48.84 L196.90,48.86 L197.40,48.87 L197.90,48.89 L198.40,48.90 L198.90,48.92 L199.40,48.93 L199.90,48.94 L200.40,48.96 L200.90,48.97 L201.40,48.98 L201.90,48.99 L202.40,49.01 L202.90,49.02 L203.40,49.03 L203.90,49.04 L204.40,49.05 L204.90,49.06 L205.40,49.07 L205.90,49.09 L206.40,49.10 L206.90,49.11 L207.40,49.12 L207.90,49.13 L208.40,49.14 L208.90,49.15 L209.40,49.16 L209.90,49.17 L210.40,49.19 L210.90,49.20 L211.40,49.21 L211.90,49.22 L212.40,49.23 L212.90,49.25 L213.40,49.26 L213.90,49.27 L214.40,49.28 L214.90,49.30 L215.40,49.31 L215.90,49.32 L216.40,49.34 L216.90,49.35 L217.40,49.36 L217.90,49.37 L218.40,49.39 L218.90,49.40 L219.40,49.41 L219.90,49.42 L220.40,49.43 L220.90,49.44 L221.40,49.45 L221.90,49.47 L222.40,49.48 L222.90,49.49 L223.40,49.50 L223.90,49.51 L224.40,49.52 L224.90,49.54 L225.40,49.55 L225.90,49.56 L226.40,49.58 L226.90,49.59 L227.40,49.60 L227.90,49.62 L228.40,49.63 L228.90,49.65 L229.40,49.66 L229.90,49.68 L230.40,49.70 L230.90,49.72 L231.40,49.74 L231.90,49.75 L232.40,49.78 L232.90,49.80 L233.40,49.82 L233.90,49.84 L234.40,49.87 L234.90,49.89 L235.40,49.92 L235.90,49.95 L236.40,49.98 L236.90,50.02 L237.40,50.06 L237.90,50.11 L238.40,50.15 L238.90,50.21 L239.40,50.26 L239.90,50.32 L240.40,50.38 L240.90,50.45 L241.40,50.52 L241.90,50.59 L242.40,50.66 L242.90,50.74 L243.40,50.82 L243.90,50.90 L244.40,50.98 L244.90,51.07 L245.40,51.15 L245.90,51.25 L246.40,51.35 L246.90,51.46 L247.40,51.57 L247.90,51.69 L248.40,51.82 L248.90,51.96 L249.40,52.10 L249.90,52.25 L250.40,52.40 L250.90,52.57 L251.40,52.74 L251.90,52.92 L252.40,53.11 L252.90,53.30 L253.40,53.50 L253.90,53.71 L254.40,53.93 L254.90,54.16 L255.40,54.40 L255.90,54.66 L256.40,54.96 L256.90,55.29 L257.40,55.65 L257.90,56.04 L258.40,56.45 L258.90,56.88 L259.40,57.33 L259.90,57.80 L260.40,58.29 L260.90,58.79 L261.40,59.31 L261.90,59.86 L262.40,60.44 L262.90,61.07 L263.40,61.74 L263.90,62.45 L264.40,63.22 L264.90,64.04 L265.40,64.92 L265.90,65.91 L266.40,67.09 L266.90,68.39 L267.40,69.73 L267.90,71.04 L268.40,72.34 L268.90,73.78 L269.40,75.50 L269.90,77.79 L270.40,80.64 L270.90,83.71 L271.40,86.67 L271.90,89.54 L272.40,92.44 L272.90,95.41 L273.40,98.50 L273.90,101.78 L274.40,105.20 L274.90,108.65 L275.40,112.03 L275.90,115.45 L276.40,118.84 L276.90,122.12 L277.40,125.21 L277.90,128.12 L278.40,130.91 L278.90,133.66 L279.40,136.44 L279.90,139.28 L280.40,142.17 L280.90,145.03 L281.40,147.84 L281.90,150.53 L282.40,153.25 L282.90,155.85 L283.40,158.00 L283.90,159.71 L284.40,161.21 L284.90,162.53 L285.40,163.70 L285.90,164.78 L286.40,165.78 L286.90,166.73 L287.40,167.61 L287.90,168.44 L288.40,169.23 L288.90,169.98 L289.40,170.70 L289.90,171.39 L290.40,172.06 L290.90,172.71 L291.40,173.33 L291.90,173.93 L292.40,174.51 L292.90,175.07 L293.40,175.62 L293.90,176.14 L294.40,176.65 L294.90,177.14 L295.40,177.61 L295.90,178.07 L296.40,178.52 L296.90,178.96 L297.40,179.38 L297.90,179.80 L298.40,180.20 L298.90,180.58 L299.40,180.95 L299.90,181.30 L300.40,181.62 L300.90,181.93 L301.40,182.21 L301.90,182.48 L302.40,182.74 L302.90,183.00 L303.40,183.24 L303.90,183.47 L304.40,183.70 L304.90,183.91 L305.40,184.10 L305.90,184.29 L306.40,184.46 L306.90,184.61 L307.40,184.76 L307.90,184.89 L308.40,185.02 L308.90,185.15 L309.40,185.27 L309.90,185.39 L310.40,185.50 L310.90,185.61 L311.40,185.71 L311.90,185.81 L312.40,185.90 L312.90,185.99 L313.40,186.07 L313.90,186.14 L314.40,186.21 L314.90,186.27 L315.40,186.32 L315.90,186.37 L316.40,186.42 L316.90,186.47 L317.40,186.51 L317.90,186.56 L318.40,186.60 L318.90,186.64 L319.40,186.68 L319.90,186.72 L320.40,186.75 L320.90,186.79 L321.40,186.82 L321.90,186.85 L322.40,186.88 L322.90,186.90 L323.40,186.93 L323.90,186.95 L324.40,186.97 L324.90,186.99 L325.40,187.00 L325.90,187.02 L326.40,187.03 L326.90,187.05 L327.40,187.06 L327.90,187.08 L328.40,187.09 L328.90,187.10 L329.40,187.11 L329.90,187.12 L330.40,187.13 L330.90,187.14 L331.40,187.14 L331.90,187.15 L332.50,187.15" stroke="#000"/>
</g>
<rect x="60.50" y="28.50" width="272.00" height="167.00" fill="none" stroke="#000" stroke-width="1.15"/>
<path d="M60.50,195.50v4.9M99.36,195.50v4.9M138.21,195.50v4.9M177.07,195.50v4.9M215.93,195.50v4.9M254.79,195.50v4.9M293.64,195.50v4.9M332.50,195.50v4.9M60.50,45.60h-4.9M60.50,93.80h-4.9M60.50,115.40h-4.9M60.50,136.80h-4.9M60.50,184.80h-4.9" stroke="#000" stroke-width="1.15" fill="none"/>
<g font-family="'Liberation Serif', serif" font-size="12.4px" fill="#151515">
<text x="60.50" y="214.3" text-anchor="middle">0</text>
<text x="99.36" y="214.3" text-anchor="middle">2</text>
<text x="138.21" y="214.3" text-anchor="middle">4</text>
<text x="177.07" y="214.3" text-anchor="middle">6</text>
<text x="215.93" y="214.3" text-anchor="middle">8</text>
<text x="254.79" y="214.3" text-anchor="middle">10</text>
<text x="293.64" y="214.3" text-anchor="middle">12</text>
<text x="332.50" y="214.3" text-anchor="middle">14</text>
<text x="50.2" y="49.85" text-anchor="end">10</text>
<text x="50.2" y="98.05" text-anchor="end">1</text>
<text x="50.2" y="119.65" text-anchor="end">0</text>
<text x="50.2" y="141.05" text-anchor="end">1</text>
<path d="M34.50,137.60H42.20" stroke="#151515" stroke-width="0.75" fill="none"/>
<text x="50.2" y="189.05" text-anchor="end">10</text>
<path d="M28.30,185.60H36.00" stroke="#151515" stroke-width="0.75" fill="none"/>
<text x="147.00" y="18.70" textLength="21.30" lengthAdjust="spacingAndGlyphs">2lyz</text>
<text x="174.20" y="18.70" textLength="41.10" lengthAdjust="spacingAndGlyphs">without</text>
<text x="220.70" y="18.70" textLength="25.20" lengthAdjust="spacingAndGlyphs">CYS</text>
<text x="170.80" y="230.90" textLength="16.40" lengthAdjust="spacingAndGlyphs" font-style="italic">pH</text>
<text x="194.20" y="230.90" textLength="27.60" lengthAdjust="spacingAndGlyphs">value</text>
<g transform="translate(20.5,0) rotate(-90)">
<text x="-170.50" y="0.00" textLength="53.90" lengthAdjust="spacingAndGlyphs">multipole</text>
<text x="-110.70" y="0.00" textLength="56.50" lengthAdjust="spacingAndGlyphs">component</text>
</g>
</g>
<g fill="none" stroke-width="1.90">
<path d="M338.1,35.00H357.9" stroke="#000"/>
<path d="M338.1,47.20H357.9" stroke="#f00"/>
<path d="M339.0,60.20H357.0" stroke="#00f" stroke-dasharray="8.3 3.7"/>
<path d="M339.0,73.40H357.0" stroke="#00f" stroke-dasharray="3.75 3.05" stroke-dashoffset="1.15"/>
<path d="M338.1,86.00H357.9" stroke="#00f"/>
</g>
<g font-family="'Liberation Serif', serif" font-style="italic" fill="#2a2a2a">
<text x="363.80" y="37.20" font-size="9.30px" textLength="5.60" lengthAdjust="spacingAndGlyphs">q</text>
<text x="363.80" y="49.00" font-size="9.30px" textLength="5.20" lengthAdjust="spacingAndGlyphs">μ</text>
<text x="371.70" y="50.50" font-size="6.60px" textLength="4.80" lengthAdjust="spacingAndGlyphs" fill="#4a4a4a">z</text>
<text x="364.00" y="61.50" font-size="9.30px" textLength="8.00" lengthAdjust="spacingAndGlyphs">Q</text>
<text x="373.80" y="63.00" font-size="6.60px" textLength="9.60" lengthAdjust="spacingAndGlyphs" fill="#4a4a4a">xx</text>
<text x="364.00" y="75.30" font-size="9.30px" textLength="8.00" lengthAdjust="spacingAndGlyphs">Q</text>
<text x="374.30" y="76.30" font-size="6.60px" textLength="9.40" lengthAdjust="spacingAndGlyphs" fill="#4a4a4a">yy</text>
<text x="364.00" y="88.00" font-size="9.30px" textLength="8.00" lengthAdjust="spacingAndGlyphs">Q</text>
<text x="373.80" y="89.00" font-size="6.60px" textLength="8.90" lengthAdjust="spacingAndGlyphs" fill="#4a4a4a">zz</text>
</g>
</svg>
</body></html>
